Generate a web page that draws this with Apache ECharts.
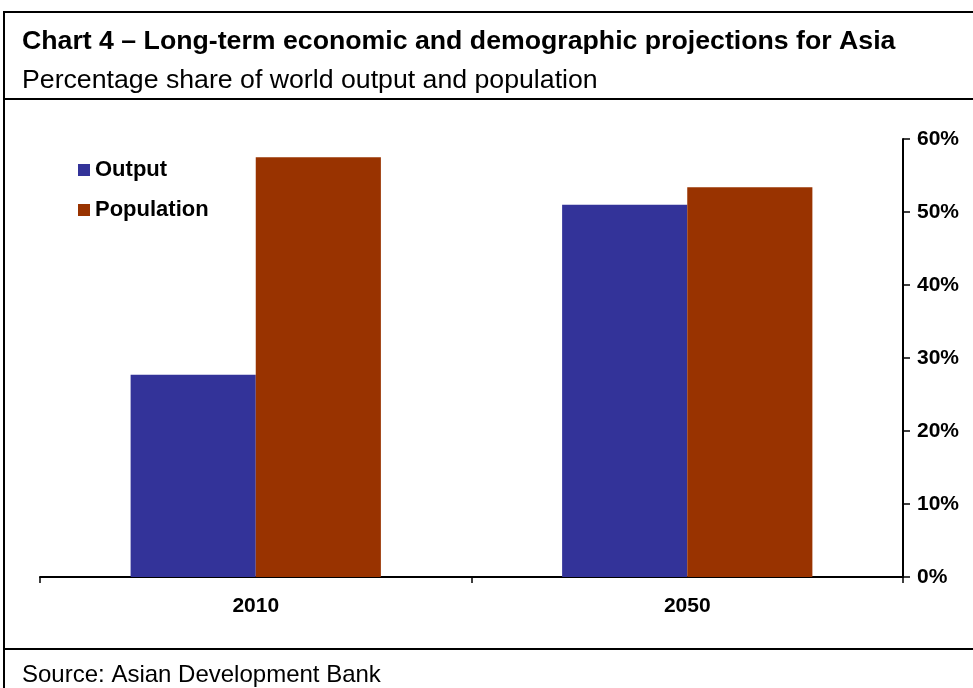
<!DOCTYPE html>
<html>
<head>
<meta charset="utf-8">
<script src="https://cdn.jsdelivr.net/npm/echarts@6/dist/echarts.min.js"></script>
<style>
  html, body { margin: 0; padding: 0; background: #fff; }
  #chart { width: 973px; height: 688px; }
</style>
</head>
<body>
<div id="chart"></div>
<script>
// data
const years = ['2010', '2050']
const outputShare = [27.7, 51.0]
const populationShare = [57.5, 53.4]
const yTicks = [0, 10, 20, 30, 40, 50, 60]

const font = '"Liberation Sans", Arial, sans-serif'

const chart = echarts.init(document.getElementById('chart'))

chart.setOption({
  animation: false,
  textStyle: { fontFamily: font },
  title: [
    {
      text: 'Chart 4 \u2013 Long-term economic and demographic projections for Asia',
      left: 17, top: 23,
      textStyle: { fontFamily: font, fontSize: 26.7, fontWeight: 'bold', color: '#000' }
    },
    {
      text: 'Percentage share of world output and population',
      left: 17, top: 62,
      textStyle: { fontFamily: font, fontSize: 26.7, fontWeight: 'normal', color: '#000' }
    },
    {
      text: 'Source: Asian Development Bank',
      left: 17, top: 658,
      textStyle: { fontFamily: font, fontSize: 24, fontWeight: 'normal', color: '#000' }
    }
  ],
  legend: {
    orient: 'vertical',
    left: 73, top: 154,
    icon: 'rect',
    itemWidth: 12, itemHeight: 12,
    itemGap: 18,
    textStyle: { fontFamily: font, fontSize: 22, fontWeight: 'bold', color: '#000' },
    data: ['Output', 'Population']
  },
  grid: { left: 40, right: 70, top: 139, bottom: 111 },
  xAxis: {
    type: 'category',
    data: years,
    axisLine: { lineStyle: { color: '#000', width: 2 } },
    axisTick: { show: true, length: 6, lineStyle: { color: '#000', width: 1.5 } },
    axisLabel: { fontFamily: font, fontSize: 21, fontWeight: 'bold', color: '#000', margin: 19 }
  },
  yAxis: {
    type: 'value',
    position: 'right',
    min: yTicks[0], max: yTicks[yTicks.length - 1], interval: 10,
    axisLine: { show: true, lineStyle: { color: '#000', width: 2 } },
    axisTick: { show: true, length: 7, lineStyle: { color: '#000', width: 1.5 } },
    splitLine: { show: false },
    axisLabel: {
      fontFamily: font, fontSize: 21, fontWeight: 'bold', color: '#000', margin: 14,
      formatter: v => v + '%'
    }
  },
  series: [
    {
      name: 'Output', type: 'bar', data: outputShare,
      barGap: '0%', barCategoryGap: '42%',
      itemStyle: { color: '#333399' }
    },
    {
      name: 'Population', type: 'bar', data: populationShare,
      itemStyle: { color: '#993300' }
    }
  ],
  graphic: [
    {
      type: 'rect', silent: true,
      shape: { x: 4, y: 12, width: 990, height: 700 },
      style: { fill: 'none', stroke: '#000', lineWidth: 2 }
    },
    {
      type: 'line', silent: true,
      shape: { x1: 4, y1: 99, x2: 973, y2: 99 },
      style: { stroke: '#000', lineWidth: 2 }
    },
    {
      type: 'line', silent: true,
      shape: { x1: 4, y1: 649, x2: 973, y2: 649 },
      style: { stroke: '#000', lineWidth: 2 }
    }
  ]
})
</script>
</body>
</html>
